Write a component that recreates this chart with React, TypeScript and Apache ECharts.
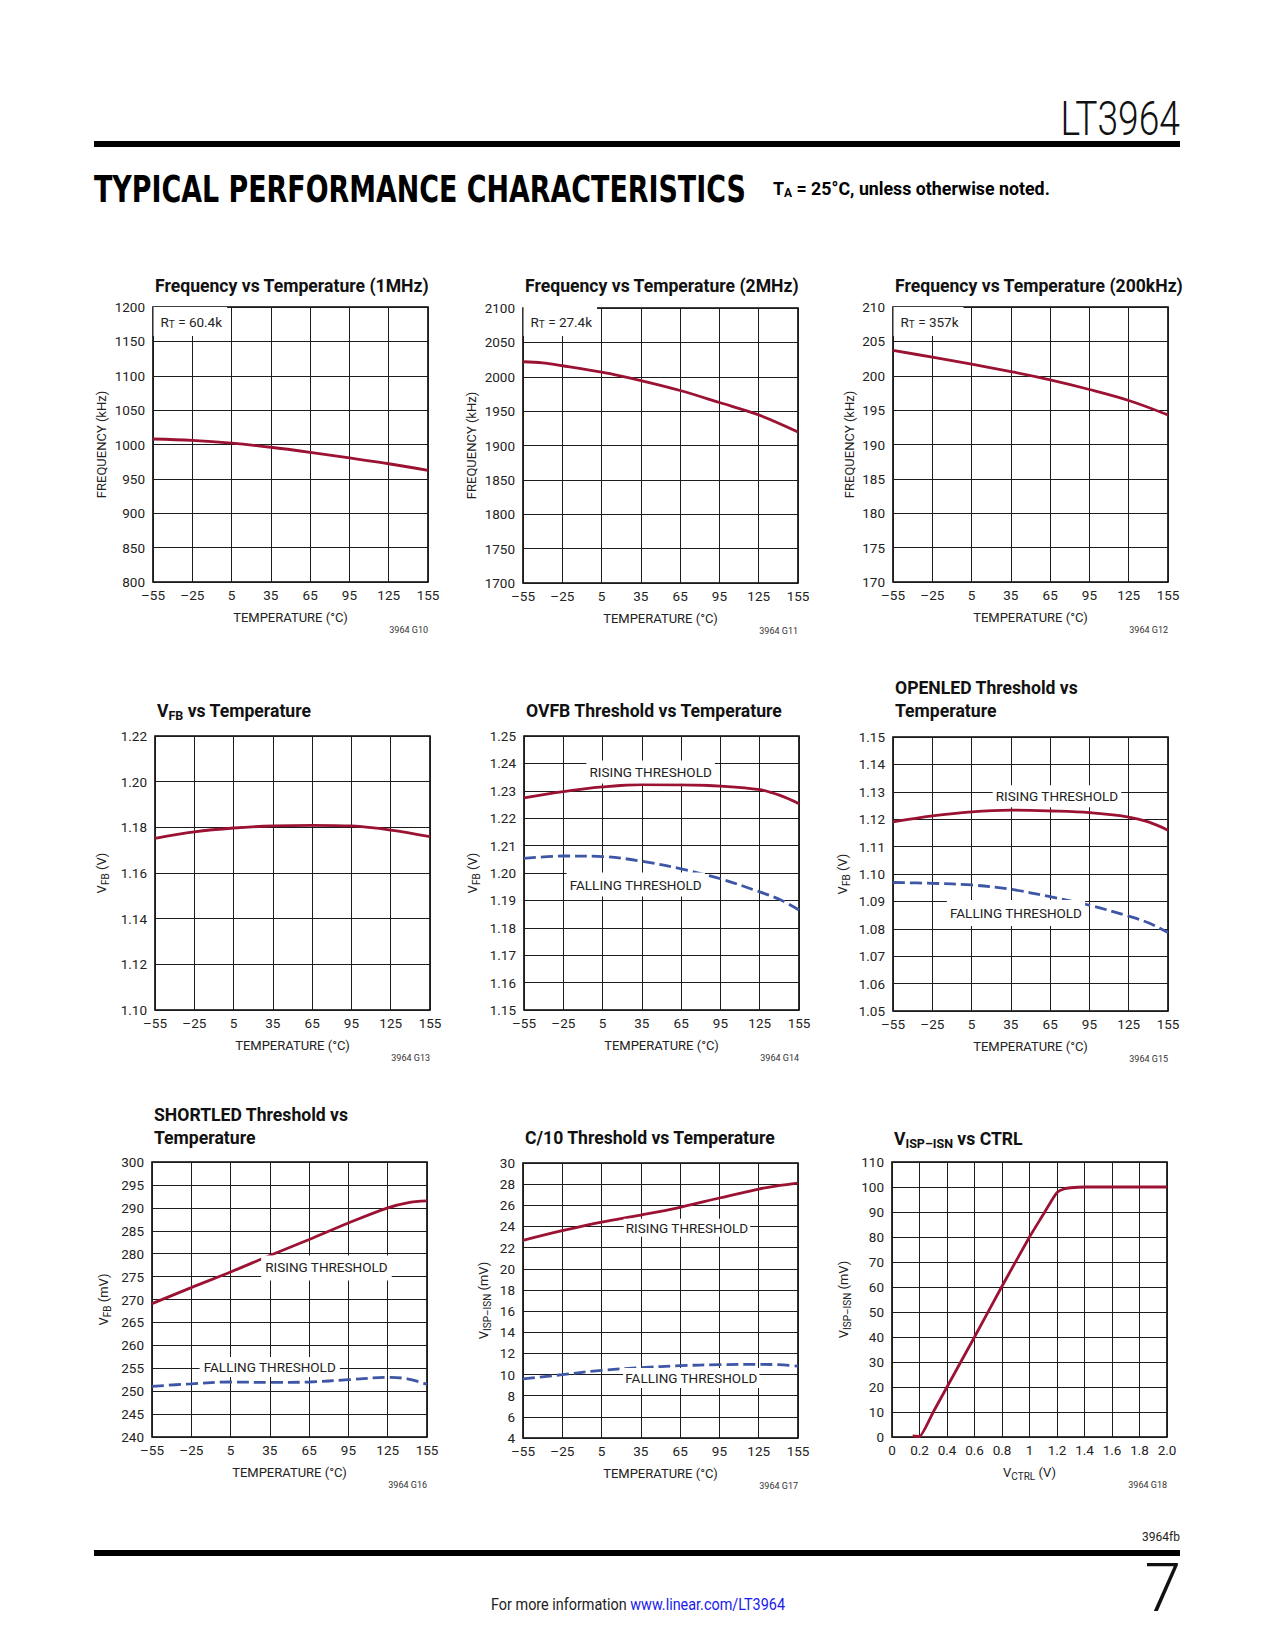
import React, { useEffect, useRef } from "react";
import * as echarts from "echarts";

const FONT = "Roboto, 'Liberation Sans', 'DejaVu Sans Condensed', sans-serif";
const HEAD_FONT = "'DejaVu Sans Condensed', 'DejaVu Sans', sans-serif";
const RED = "#9b1233";
const BLUE = "#3d56a6";
const INK = "#222";

// ---------- data ----------
const TEMP8 = [-55, -25, 5, 35, 65, 95, 125, 155];
const TEMP9 = [-55, -25, 5, 35, 65, 95, 125, 140, 155];
const TEMP_2M = [-55, -40, -25, 5, 20, 35, 65, 95, 125, 155];

const FREQ_1M = [1008, 1006, 1002, 996, 988.6, 980.4, 972, 962.4];
const FREQ_2M = [2021.8, 2020.3, 2016, 2006.7, 2001, 1994.5, 1980, 1962.5, 1944.5, 1919.7];
const FREQ_200K = [203.7, 202.7, 201.7, 200.6, 199.4, 198.0, 196.4, 194.3];
const VFB = [1.1752, 1.178, 1.1797, 1.1806, 1.1809, 1.1806, 1.1788, 1.1759];
const OVFB_RISE = [1.2274, 1.2297, 1.2314, 1.2323, 1.2322, 1.2317, 1.2304, 1.2284, 1.2253];
const OVFB_FALL = [1.2053, 1.2062, 1.206, 1.2043, 1.2015, 1.1979, 1.1931, 1.1904, 1.1865];
const OPEN_RISE = [1.119, 1.1212, 1.1227, 1.1233, 1.123, 1.1224, 1.1208, 1.119, 1.116];
const OPEN_FALL = [1.0969, 1.0966, 1.096, 1.0944, 1.0917, 1.0886, 1.0846, 1.0822, 1.0786];
const SHORT_RISE = [269.1, 272.6, 276, 279.6, 283.1, 286.7, 290, 291.1, 291.5];
const SHORT_FALL = [251.05, 251.6, 252, 251.9, 252, 252.5, 253, 252.7, 251.5];
const C10_RISE = [22.69, 23.6, 24.42, 25.08, 25.81, 26.69, 27.54, 27.85, 28.1];
const C10_FALL = [9.58, 9.99, 10.4, 10.65, 10.84, 10.93, 10.96, 10.93, 10.8];
const CTRL_V = [0.15, 0.2, 0.3, 0.4, 0.6, 0.8, 1.0, 1.1, 1.16, 1.2, 1.25, 1.3, 1.4, 2.0];
const VISP = [0.4, 0.2, 10, 20, 40, 60.3, 80, 89, 94.5, 97.8, 99.2, 99.7, 100, 100];

const TEMP_TICK = { min: -55, max: 155, interval: 30 };

// ---------- helpers ----------
const zip = (xs: number[], ys: number[]) => xs.map((x, i) => [x, ys[i]]);
const tempFmt = (v: number) => (v < 0 ? "\u2013" + Math.abs(v) : String(v));
const intFmt = (v: number) => String(Math.round(v));
const dec2 = (v: number) => v.toFixed(2);
const ctrlFmt = (v: number) => {
  const r = Math.round(v * 10) / 10;
  if (r === 0) return "0";
  if (r === 1) return "1";
  return r.toFixed(1);
};

const richA = { fontSize: 13, lineHeight: 18, fontFamily: FONT, color: INK };
const richS = { fontSize: 10, fontFamily: FONT, color: INK, verticalAlign: "bottom" };
const noteA = { fontSize: 13.5, lineHeight: 16, fontFamily: FONT, color: INK };
const noteS = { fontSize: 10, fontFamily: FONT, color: INK, verticalAlign: "bottom" };

type Note = { x: number; y: number; text: string; pos: string; pad: number[] };
type Ser = { x: number[]; y: number[]; color: string; dashed?: boolean; smooth?: number; notes?: Note[] };
type Panel = {
  box: number[];
  title: string;
  titleTop: number;
  xMin: number; xMax: number; xInt: number; xFmt: (v: number) => string; xName: string;
  yMin: number; yMax: number; yInt: number; yFmt: (v: number) => string; yName: string; yGap: number;
  series: Ser[];
  code: string;
};

const T = { xMin: TEMP_TICK.min, xMax: TEMP_TICK.max, xInt: TEMP_TICK.interval, xFmt: tempFmt, xName: "{a|TEMPERATURE (°C)}" };

const panels: Panel[] = [
  {
    box: [153, 307, 275, 275], title: "{b|Frequency vs Temperature (1MHz)}", titleTop: 274, ...T,
    yMin: 800, yMax: 1200, yInt: 50, yFmt: intFmt, yName: "{a|FREQUENCY (kHz)}", yGap: 43,
    series: [{ x: TEMP8, y: FREQ_1M, color: RED, notes: [{ x: -55, y: 1179, text: "{a|R}{s|T}{a| = 60.4k}", pos: "right", pad: [7, 5, 6, 7] }] }],
    code: "3964 G10",
  },
  {
    box: [523, 308, 275, 275], title: "{b|Frequency vs Temperature (2MHz)}", titleTop: 274, ...T,
    yMin: 1700, yMax: 2100, yInt: 50, yFmt: intFmt, yName: "{a|FREQUENCY (kHz)}", yGap: 43,
    series: [{ x: TEMP_2M, y: FREQ_2M, color: RED, notes: [{ x: -55, y: 2080.5, text: "{a|R}{s|T}{a| = 27.4k}", pos: "right", pad: [7, 5, 6, 7] }] }],
    code: "3964 G11",
  },
  {
    box: [893, 307, 275, 275], title: "{b|Frequency vs Temperature (200kHz)}", titleTop: 274, ...T,
    yMin: 170, yMax: 210, yInt: 5, yFmt: intFmt, yName: "{a|FREQUENCY (kHz)}", yGap: 35,
    series: [{ x: TEMP8, y: FREQ_200K, color: RED, notes: [{ x: -55, y: 207.9, text: "{a|R}{s|T}{a| = 357k}", pos: "right", pad: [7, 5, 6, 7] }] }],
    code: "3964 G12",
  },
  {
    box: [155, 736, 275, 274], title: "{b|V}{bs|FB}{b| vs Temperature}", titleTop: 699, ...T,
    yMin: 1.1, yMax: 1.22, yInt: 0.02, yFmt: dec2, yName: "{a|V}{s|FB}{a| (V)}", yGap: 45,
    series: [{ x: TEMP8, y: VFB, color: RED }],
    code: "3964 G13",
  },
  {
    box: [524, 736, 275, 274], title: "{b|OVFB Threshold vs Temperature}", titleTop: 699, ...T,
    yMin: 1.15, yMax: 1.25, yInt: 0.01, yFmt: dec2, yName: "{a|V}{s|FB}{a| (V)}", yGap: 43,
    series: [
      { x: TEMP9, y: OVFB_RISE, color: RED, notes: [{ x: 41.7, y: 1.2369, text: "{a|RISING THRESHOLD}", pos: "inside", pad: [4, 3, 3, 3] }] },
      { x: TEMP9, y: OVFB_FALL, color: BLUE, dashed: true, notes: [{ x: 30.3, y: 1.1958, text: "{a|FALLING THRESHOLD}", pos: "inside", pad: [4, 3, 4, 3] }] },
    ],
    code: "3964 G14",
  },
  {
    box: [893, 737, 275, 274], title: "{b|OPENLED Threshold vs}\n{b|Temperature}", titleTop: 676, ...T,
    yMin: 1.05, yMax: 1.15, yInt: 0.01, yFmt: dec2, yName: "{a|V}{s|FB}{a| (V)}", yGap: 42,
    series: [
      { x: TEMP9, y: OPEN_RISE, color: RED, notes: [{ x: 70.2, y: 1.1284, text: "{a|RISING THRESHOLD}", pos: "inside", pad: [3, 3, 3, 3] }] },
      { x: TEMP9, y: OPEN_FALL, color: BLUE, dashed: true, notes: [{ x: 38.9, y: 1.0858, text: "{a|FALLING THRESHOLD}", pos: "inside", pad: [5, 3, 5, 3] }] },
    ],
    code: "3964 G15",
  },
  {
    box: [152, 1162, 275, 275], title: "{b|SHORTLED Threshold vs}\n{b|Temperature}", titleTop: 1103, ...T,
    yMin: 240, yMax: 300, yInt: 5, yFmt: intFmt, yName: "{a|V}{s|FB}{a| (mV)}", yGap: 40,
    series: [
      { x: TEMP9, y: SHORT_RISE, color: RED, notes: [{ x: 78.2, y: 276.9, text: "{a|RISING THRESHOLD}", pos: "inside", pad: [4, 4, 5, 4] }] },
      { x: TEMP9, y: SHORT_FALL, color: BLUE, dashed: true, notes: [{ x: 34.9, y: 255.3, text: "{a|FALLING THRESHOLD}", pos: "inside", pad: [2, 4, 2, 4] }] },
    ],
    code: "3964 G16",
  },
  {
    box: [523, 1163, 275, 275], title: "{b|C/10 Threshold vs Temperature}", titleTop: 1126, ...T,
    yMin: 4, yMax: 30, yInt: 2, yFmt: intFmt, yName: "{a|V}{s|ISP\u2013ISN}{a| (mV)}", yGap: 31,
    series: [
      { x: TEMP9, y: C10_RISE, color: RED, notes: [{ x: 70.2, y: 23.88, text: "{a|RISING THRESHOLD}", pos: "inside", pad: [1, 2, 1, 2] }] },
      { x: TEMP9, y: C10_FALL, color: BLUE, dashed: true, notes: [{ x: 73.5, y: 9.67, text: "{a|FALLING THRESHOLD}", pos: "inside", pad: [2, 2, 2, 2] }] },
    ],
    code: "3964 G17",
  },
  {
    box: [892, 1162, 275, 275], title: "{b|V}{bs|ISP\u2013ISN}{b| vs CTRL}", titleTop: 1127,
    xMin: 0, xMax: 2, xInt: 0.2, xFmt: ctrlFmt, xName: "{a|V}{s|CTRL}{a| (V)}",
    yMin: 0, yMax: 110, yInt: 10, yFmt: intFmt, yName: "{a|V}{s|ISP\u2013ISN}{a| (mV)}", yGap: 40,
    series: [{ x: CTRL_V, y: VISP, color: RED, smooth: 0.15 }],
    code: "3964 G18",
  },
];

function txt(x: number, y: number, text: string, font: string, align: string, fill: string, extra: any = {}) {
  return {
    type: "text", x, y, ...extra,
    style: { text, fill, font, align, textAlign: align, verticalAlign: "middle", textVerticalAlign: "middle" },
  };
}

function buildOption() {
  const grid: any[] = [];
  const xAxis: any[] = [];
  const yAxis: any[] = [];
  const title: any[] = [];
  const series: any[] = [];
  const graphic: any[] = [];
  const split = { show: true, lineStyle: { color: "#1c1c1c", width: 1 } };
  const nameStyle = { fontFamily: FONT, fontSize: 13, color: INK, rich: { a: richA, s: richS } };

  panels.forEach((p, i) => {
    const [l, t, w, h] = p.box;
    grid.push({ left: l, top: t, width: w, height: h, show: true, borderColor: "#000", borderWidth: 1.6, backgroundColor: "transparent" });
    xAxis.push({
      gridIndex: i, type: "value", min: p.xMin, max: p.xMax, interval: p.xInt,
      axisLine: { show: false }, axisTick: { show: false }, splitLine: split,
      axisLabel: { margin: 6, fontSize: 13.5, color: INK, fontFamily: FONT, formatter: p.xFmt, showMinLabel: true, showMaxLabel: true },
      name: p.xName, nameLocation: "middle", nameGap: 26, nameTextStyle: nameStyle,
    });
    yAxis.push({
      gridIndex: i, type: "value", min: p.yMin, max: p.yMax, interval: p.yInt,
      axisLine: { show: false }, axisTick: { show: false }, splitLine: split,
      axisLabel: { margin: 8, fontSize: 13.5, color: INK, fontFamily: FONT, formatter: p.yFmt, showMinLabel: true, showMaxLabel: true },
      name: p.yName, nameLocation: "middle", nameGap: p.yGap, nameRotate: 90, nameTextStyle: nameStyle,
    });
    title.push({
      text: p.title, left: l + 2, top: p.titleTop, padding: 0,
      textStyle: {
        fontFamily: FONT, fontSize: 17.6, fontWeight: "bold", color: "#111", lineHeight: 23,
        rich: {
          b: { fontFamily: FONT, fontSize: 17.6, fontWeight: "bold", color: "#111", lineHeight: 23 },
          bs: { fontFamily: FONT, fontSize: 12.5, fontWeight: "bold", color: "#111", verticalAlign: "bottom" },
        },
      },
    });
    p.series.forEach((s) => {
      const sObj: any = {
        type: "line", xAxisIndex: i, yAxisIndex: i, data: zip(s.x, s.y),
        showSymbol: false, symbol: "none", smooth: s.smooth ?? 0.35, z: 3,
        lineStyle: { color: s.color, width: 2.8, type: s.dashed ? [12, 5] : "solid", cap: "butt" },
        silent: true,
      };
      if (s.notes) {
        sObj.markPoint = {
          symbol: "rect", symbolSize: 1, silent: true, itemStyle: { color: "rgba(0,0,0,0)" },
          data: s.notes.map((n) => ({
            coord: [n.x, n.y],
            label: {
              show: true, position: n.pos, distance: 0, formatter: n.text,
              backgroundColor: "#fff", padding: n.pad, color: INK,
              rich: { a: noteA, s: noteS },
            },
          })),
        };
      }
      series.push(sObj);
    });
    graphic.push(txt(l + w, t + h + 48, p.code, `9px ${FONT}`, "right", "#333"));
  });

  // page header / footer
  graphic.push(
    txt(1180, 119, "LT3964", `300 49px ${FONT}`, "right", "#111", { scaleX: 0.76, originX: 0 }),
    { type: "rect", shape: { x: 94, y: 141, width: 1086, height: 6 }, style: { fill: "#000" } },
    txt(94, 189, "TYPICAL PERFORMANCE CHARACTERISTICS", `bold 37px ${HEAD_FONT}`, "left", "#000", { scaleX: 0.808 }),
    {
      type: "text", x: 773, y: 188,
      style: {
        text: "{b|T}{s|A}{b| = 25°C, unless otherwise noted.}", fill: "#000", align: "left", textAlign: "left", verticalAlign: "middle", textVerticalAlign: "middle",
        rich: {
          b: { fontFamily: FONT, fontSize: 17.8, fontWeight: "bold", fill: "#000", color: "#000", lineHeight: 22 },
          s: { fontFamily: FONT, fontSize: 12, fontWeight: "bold", fill: "#000", color: "#000", verticalAlign: "bottom" },
        },
      },
    },
    txt(1180, 1537, "3964fb", `12px ${FONT}`, "right", "#222"),
    { type: "rect", shape: { x: 94, y: 1550, width: 1086, height: 6 }, style: { fill: "#000" } },
    txt(1181, 1588, "7", `300 66px ${FONT}`, "right", "#111"),
    {
      type: "text", x: 638, y: 1605, scaleX: 0.9,
      style: {
        text: "{k|For more information }{u|www.linear.com/LT3964}", align: "center", textAlign: "center", verticalAlign: "middle", textVerticalAlign: "middle",
        rich: {
          k: { fontFamily: FONT, fontSize: 16, fill: "#222", color: "#222" },
          u: { fontFamily: FONT, fontSize: 16, fill: "#1a1aee", color: "#1a1aee" },
        },
      },
    }
  );

  return { animation: false, backgroundColor: "#fff", grid, xAxis, yAxis, title, series, graphic };
}

export default function App() {
  const ref = useRef<HTMLDivElement>(null);
  useEffect(() => {
    const chart = echarts.init(ref.current!, null, { renderer: "svg" });
    chart.setOption(buildOption() as any);
    return () => chart.dispose();
  }, []);
  return <div ref={ref} style={{ position: "absolute", left: 0, top: 0, width: 1275, height: 1650, background: "#fff" }} />;
}
